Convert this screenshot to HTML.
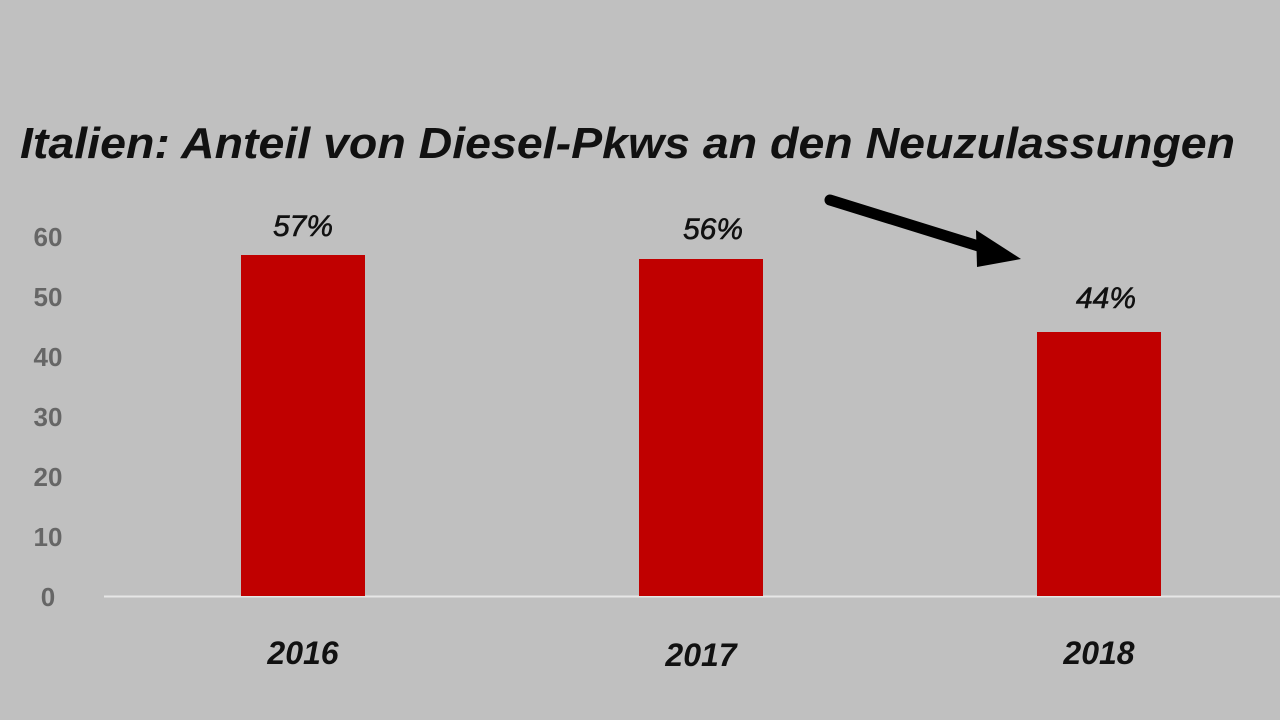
<!DOCTYPE html>
<html><head><style>body{margin:0;background:#c0c0c0}</style></head><body>
<svg width="1280" height="720" xmlns="http://www.w3.org/2000/svg" style="display:block">
<rect width="1280" height="720" fill="#c0c0c0"/>
<text x="20" y="158" font-family="Liberation Sans, sans-serif" font-size="44" font-style="italic" font-weight="bold" fill="#111" textLength="1215" lengthAdjust="spacingAndGlyphs">Italien: Anteil von Diesel-Pkws an den Neuzulassungen</text>
<g font-family="Liberation Sans, sans-serif" font-size="26" font-weight="bold" fill="#666" text-anchor="middle">
<text x="48" y="246">60</text><text x="48" y="306">50</text><text x="48" y="366">40</text>
<text x="48" y="426">30</text><text x="48" y="486">20</text><text x="48" y="546">10</text><text x="48" y="606">0</text>
</g>
<line x1="104" y1="596.5" x2="1280" y2="596.5" stroke="#e6e6e6" stroke-width="2"/>
<rect x="241" y="255" width="124" height="341" fill="#c00000"/>
<rect x="639" y="259" width="124" height="337" fill="#c00000"/>
<rect x="1037" y="332" width="124" height="264" fill="#c00000"/>
<g font-family="Liberation Sans, sans-serif" font-size="30" font-style="italic" fill="#111" text-anchor="middle" stroke="#111" stroke-width="0.6">
<text x="303" y="236" textLength="60" lengthAdjust="spacingAndGlyphs">57%</text><text x="713" y="239" textLength="60" lengthAdjust="spacingAndGlyphs">56%</text><text x="1106" y="308" textLength="60" lengthAdjust="spacingAndGlyphs">44%</text>
</g>
<g font-family="Liberation Sans, sans-serif" font-size="32" font-style="italic" font-weight="bold" fill="#111" text-anchor="middle">
<text x="303" y="664">2016</text><text x="701" y="666">2017</text><text x="1099" y="664">2018</text>
</g>
<line x1="830" y1="200" x2="988" y2="249" stroke="#000" stroke-width="11" stroke-linecap="round"/>
<polygon points="976,230 1021,259 977,267" fill="#000"/>
</svg>
</body></html>
